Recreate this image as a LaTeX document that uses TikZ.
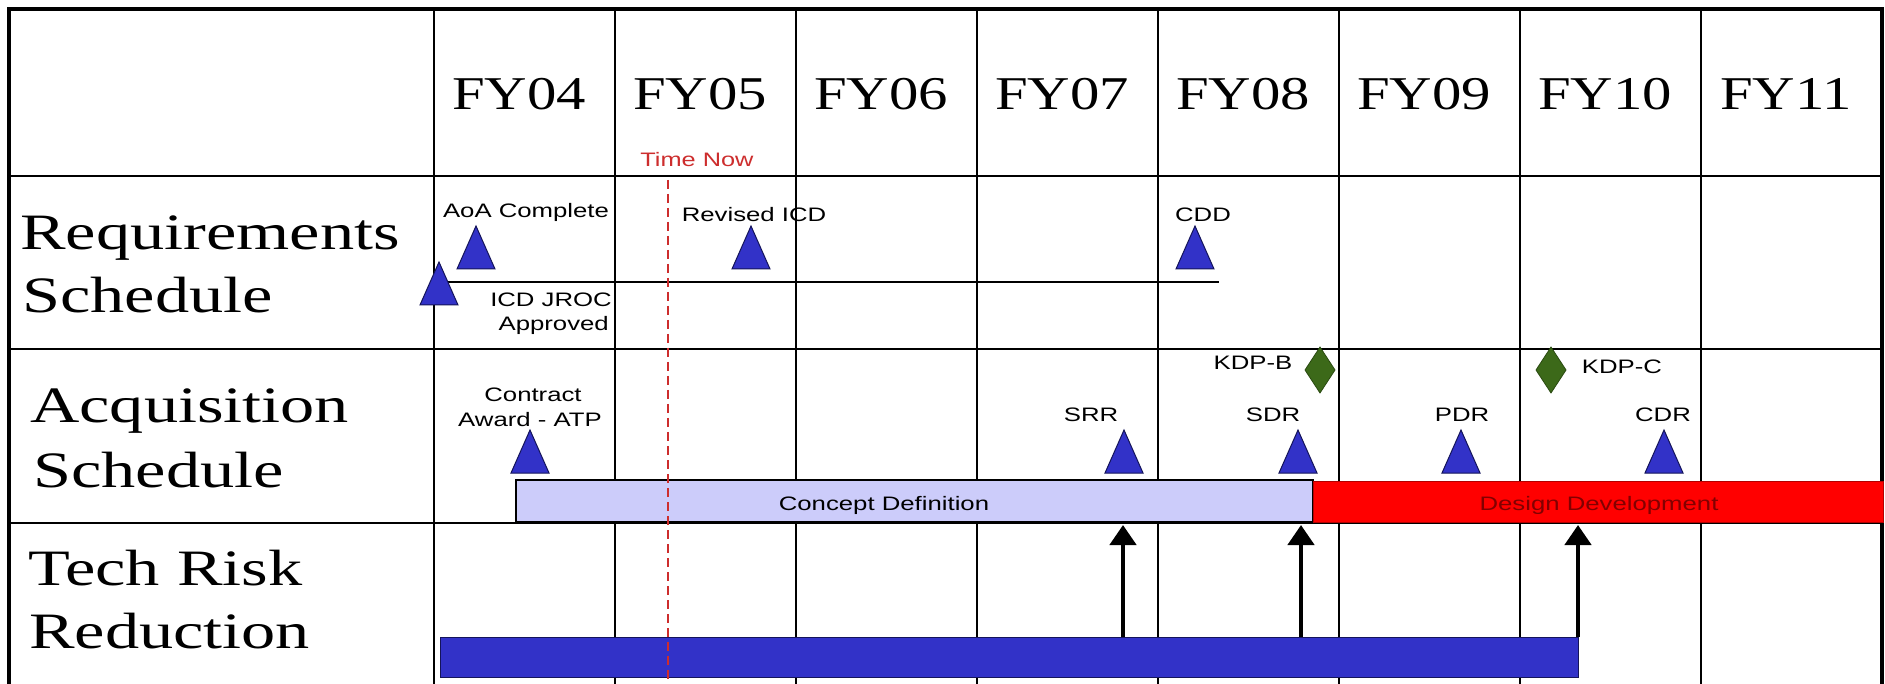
\documentclass[tikz,border=0pt]{standalone}
\usepackage{fontspec}
\usepackage{graphicx}
\setmainfont{Liberation Serif}
\newfontfamily\lsans{Liberation Sans}
\usetikzlibrary{arrows.meta}
\definecolor{triblue}{RGB}{50,50,200}
\definecolor{trinavy}{RGB}{20,20,90}
\definecolor{lav}{RGB}{204,204,250}
\definecolor{kgreen}{RGB}{60,105,25}
\definecolor{tnred}{RGB}{205,45,45}
\definecolor{ddtext}{RGB}{130,0,0}
\newcommand{\hsc}[2]{\scalebox{#1}[1]{#2}}
\newcommand{\mstone}[3]{\coordinate (#1) at (#2,#3);
  \draw[tri] (#1) ++(-19,0) -- ++(38,0) -- ++(-19,-43) -- cycle;}
\newcommand{\kdp}[3]{\coordinate (#1) at (#2,#3);
  \draw[dia] (#1) ++(0,-23) -- ++(15,23) -- ++(-15,23) -- ++(-15,-23) -- cycle;}
\begin{document}
\begin{tikzpicture}[x=1pt,y=-1pt,
  grid/.style={line width=2.8pt},
  big/.style={font=\fontsize{51}{60}\selectfont, inner sep=0pt, anchor=base west},
  fy/.style={font=\fontsize{47}{56}\selectfont, inner sep=0pt, anchor=base},
  lbl/.style={font=\lsans\fontsize{19.5}{22}\selectfont, inner sep=0pt, anchor=base},
  tri/.style={fill=triblue, draw=trinavy, line width=1pt},
  dia/.style={fill=kgreen, draw=kgreen!70!black, line width=0.8pt},
  bar/.style={anchor=north west, inner sep=0pt, outer sep=0pt},
  arr/.style={line width=4.5pt, -{Triangle[width=26pt,length=20pt]}},
]
\fill[white] (0,0) rectangle (1885,684);
\useasboundingbox (0,0) rectangle (1885,684);

% grid
\foreach \x in {434,615,796,977,1158,1339,1520,1701}
  \draw[grid] (\x,9) -- (\x,684);
\foreach \y in {176,349,523}
  \draw[grid] (9,\y) -- (1882,\y);
\draw[line width=4pt] (9,684) -- (9,9) -- (1882,9) -- (1882,684);
\draw[line width=2pt] (447,282) -- (1219,282);

% bars
\node[bar, fill=lav, draw=black, line width=1.8pt, minimum width=797pt, minimum height=42pt] (cd) at (516,480) {};
\node[bar, fill=red, draw=red!70!black, line width=1pt, minimum width=570pt, minimum height=41pt] (dd) at (1313,481) {};
\node[bar, fill=triblue, draw=trinavy, line width=1pt, minimum width=1138pt, minimum height=40pt] (trr) at (440,637) {};

% milestones
\mstone{aoa}{476}{269}
\mstone{icd}{439}{305}
\mstone{rev}{751}{269}
\mstone{cdd}{1195}{269}
\mstone{cat}{530}{473}
\mstone{srr}{1124}{473}
\mstone{sdr}{1298}{473}
\mstone{pdr}{1461}{473}
\mstone{cdr}{1664}{473}
\kdp{kdpb}{1320}{370}
\kdp{kdpc}{1551}{370}

% arrows
\coordinate (a1) at (1123,525);
\coordinate (a2) at (1301,525);
\coordinate (a3) at (1578,525);
\draw[arr] (trr.north -| a1) -- (a1);
\draw[arr] (trr.north -| a2) -- (a2);
\draw[arr] (trr.north -| a3) -- (a3);

% time now
\coordinate (tn0) at (668,180);
\coordinate (tn1) at (668,684);
\draw[tnred, line width=1.6pt, dash pattern=on 9pt off 5pt] (tn0) -- (tn1);
\node[lbl, text=tnred] (tnow) at (697,167) {\hsc{1.3}{Time Now}};

% headers
\node[fy] (fy04) at (519,110) {\hsc{1.25}{FY04}};
\node[fy] (fy05) at (700,110) {\hsc{1.25}{FY05}};
\node[fy] (fy06) at (881,110) {\hsc{1.25}{FY06}};
\node[fy] (fy07) at (1062,110) {\hsc{1.25}{FY07}};
\node[fy] (fy08) at (1243,110) {\hsc{1.25}{FY08}};
\node[fy] (fy09) at (1424,110) {\hsc{1.25}{FY09}};
\node[fy] (fy10) at (1605,110) {\hsc{1.25}{FY10}};
\node[fy] (fy11) at (1786,110) {\hsc{1.25}{FY11}};

% row labels
\node[big] (r1a) at (20,250) {\hsc{1.34}{Requirements}};
\node[big] (r1b) at (22,313) {\hsc{1.34}{Schedule}};
\node[big] (r2a) at (30,422) {\hsc{1.34}{Acquisition}};
\node[big] (r2b) at (33,487) {\hsc{1.34}{Schedule}};
\node[big] (r3a) at (28,585) {\hsc{1.34}{Tech Risk}};
\node[big] (r3b) at (29,648) {\hsc{1.34}{Reduction}};

% small labels
\node[lbl] (laoa) at (526,218) {\hsc{1.32}{AoA Complete}};
\node[lbl] (lrev) at (754,222) {\hsc{1.32}{Revised ICD}};
\node[lbl] (lcdd) at (1203,222) {\hsc{1.32}{CDD}};
\node[lbl, anchor=base east] (licd1) at (612,307) {\hsc{1.32}{ICD JROC}};
\node[lbl, anchor=base east] (licd2) at (609,331) {\hsc{1.32}{Approved}};
\node[lbl] (lcat1) at (533,402) {\hsc{1.32}{Contract}};
\node[lbl] (lcat2) at (530,427) {\hsc{1.32}{Award - ATP}};
\node[lbl] (lsrr) at (1091,421) {\hsc{1.32}{SRR}};
\node[lbl] (lsdr) at (1273,421) {\hsc{1.32}{SDR}};
\node[lbl] (lpdr) at (1462,421) {\hsc{1.32}{PDR}};
\node[lbl] (lcdr) at (1663,421) {\hsc{1.32}{CDR}};
\node[lbl] (lkdpb) at (1253,370) {\hsc{1.32}{KDP-B}};
\node[lbl] (lkdpc) at (1622,374) {\hsc{1.32}{KDP-C}};
\node[lbl] (lcd) at (884,510) {\hsc{1.32}{Concept Definition}};
\node[lbl, text=ddtext] (ldd) at (1599,510) {\hsc{1.32}{Design Development}};
\end{tikzpicture}
\end{document}
